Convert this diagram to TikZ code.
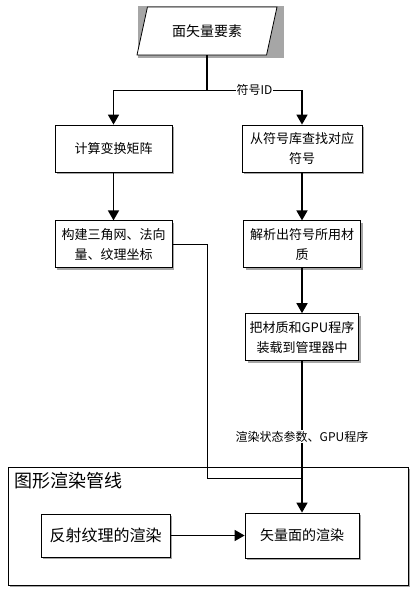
\documentclass[tikz,border=0pt]{standalone}
\usepackage{fontspec}
\setmainfont{Noto Sans CJK SC}
\usepackage{tikz}
\usetikzlibrary{positioning,arrows.meta,shapes.geometric,shadows,backgrounds}

\begin{document}
\begin{tikzpicture}[
  x=1pt, y=1pt,
  box/.style={draw, line width=0.8pt, fill=white, align=center, minimum height=47pt, inner sep=2pt, font=\fontsize{13}{20}\selectfont, drop shadow={shadow xshift=2pt, shadow yshift=-2pt, fill=gray!70, opacity=1}},
  para/.style={draw, line width=0.8pt, fill=white, trapezium, trapezium left angle=62, trapezium right angle=118, trapezium stretches body, minimum width=140pt, minimum height=48pt, font=\fontsize{14}{16}\selectfont},
  lab/.style={fill=white, inner sep=1pt, font=\fontsize{12}{14}\selectfont},
  line/.style={line width=1.6pt},
  thin/.style={line width=0.9pt},
  arr/.style={-{Triangle[length=10pt, width=11pt]}, line width=1.6pt}]
  \useasboundingbox (0,0) rectangle (415,-594);
  \node[para] (src) at (207,-31) {面矢量要素};
  \begin{scope}[on background layer]
    \fill[gray!70] ([shift={(1,-3)}]src.bottom left corner) rectangle ([shift={(6,1)}]src.top right corner);
  \end{scope}
  \node[box, minimum width=117pt] (calc) at (113.5,-148.5) {计算变换矩阵};
  \node[box, minimum width=117pt, below=48pt of calc] (mesh) {构建三角网、法向\\量、纹理坐标};
  \node[box, minimum width=120pt] (lookup) at (302,-148.5) {从符号库查找对应\\符号};
  \node[box, minimum width=117pt, below=48pt of lookup] (parse) {解析出符号所用材\\质};
  \node[box, minimum width=113pt, below=45pt of parse] (load) {把材质和GPU程序\\装载到管理器中};
  \node[draw, line width=0.8pt, fill=white, minimum width=400pt, minimum height=118pt, drop shadow={shadow xshift=2pt, shadow yshift=-2pt, fill=gray!70, opacity=1}] (pipe) at (208,-526) {};
  \node[anchor=north west, inner sep=0pt, font=\fontsize{18}{20}\selectfont] (title) at ([shift={(7,-6)}]pipe.north west) {图形渲染管线};
  \node[box, minimum width=114pt, minimum height=45pt, font=\fontsize{14}{16}\selectfont] (vec) at (302,-535.5) {矢量面的渲染};
  \node[box, minimum width=129pt, minimum height=43pt, font=\fontsize{16}{18}\selectfont, left=74pt of vec] (refl) {反射纹理的渲染};
  \draw[line] (src.south) -- ++(0,-35) coordinate (split);
  \draw[arr] (split) -| (calc.north);
  \draw[arr] (split) -| node[lab, pos=0.25] (idlab) {符号ID} (lookup.north);
  \draw[arr] (calc) -- (mesh);
  \draw[arr] (lookup) -- (parse);
  \draw[arr] (parse) -- (load);
  \coordinate (join) at (vec.north |- 0,-478);
  \draw[thin] (mesh.east) -- ++(35,0) |- (join);
  \draw[arr] (load.south) -- node[lab] (statelab) {渲染状态参数、GPU程序} (vec.north);
  \draw[arr] (refl) -- (vec);
\end{tikzpicture}
\end{document}
